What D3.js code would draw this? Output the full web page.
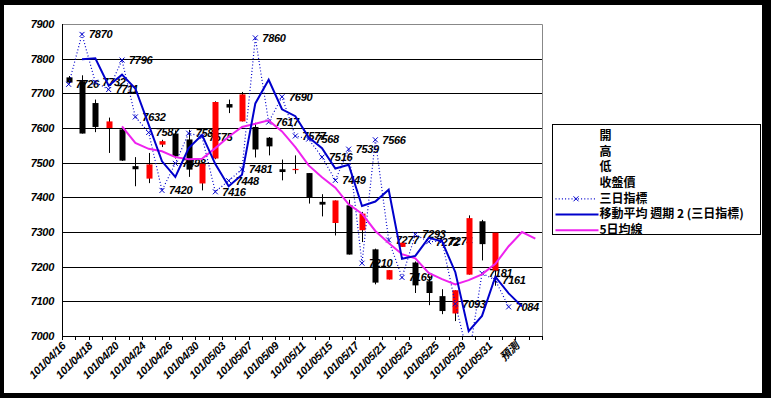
<!DOCTYPE html>
<html lang="zh-Hant">
<head>
<meta charset="utf-8">
<script src="https://cdn.jsdelivr.net/npm/d3@7"></script>
<style>
    body { margin: 0; background: #000; }
    svg { display: block; }
</style>
</head>
<body>
<script>
    let categories = ["101/04/16", "101/04/17", "101/04/18", "101/04/19", "101/04/20", "101/04/23",
        "101/04/24", "101/04/25", "101/04/26", "101/04/27", "101/04/30", "101/05/02", "101/05/03",
        "101/05/04", "101/05/07", "101/05/08", "101/05/09", "101/05/10", "101/05/11", "101/05/14",
        "101/05/15", "101/05/16", "101/05/17", "101/05/18", "101/05/21", "101/05/22", "101/05/23",
        "101/05/24", "101/05/25", "101/05/28", "101/05/29", "101/05/30", "101/05/31", "101/06/01",
        "預測", " "];

    let openVals  = [7746, 7735, 7672, 7600, 7596, 7490, 7454, 7552, 7584, 7567, 7440, 7512, 7669, 7619, 7603, 7572, 7481,
                     7480, 7470, 7387, 7326, 7377, 7305, 7250, 7163, 7257, 7212, 7158, 7115, 7065, 7177, 7331, 7189];
    let highVals  = [7750, 7752, 7682, 7630, 7600, 7516, 7528, 7566, 7593, 7595, 7500, 7677, 7682, 7704, 7615, 7574, 7509,
                     7521, 7470, 7409, 7391, 7393, 7358, 7252, 7190, 7269, 7215, 7172, 7135, 7132, 7348, 7335, 7298];
    let lowVals   = [7728, 7584, 7588, 7528, 7505, 7432, 7441, 7545, 7512, 7459, 7420, 7510, 7643, 7619, 7515, 7521, 7449,
                     7468, 7382, 7345, 7290, 7235, 7271, 7149, 7163, 7257, 7124, 7089, 7063, 7043, 7177, 7218, 7145];
    let closeVals = [7731, 7584, 7603, 7619, 7506, 7481, 7495, 7562, 7518, 7480, 7497, 7675, 7659, 7697, 7538, 7547, 7473,
                     7482, 7401, 7379, 7391, 7235, 7353, 7154, 7190, 7269, 7146, 7124, 7072, 7132, 7340, 7265, 7298];

    // 三日指標
    let indexVals = [7726, 7870, 7732, 7711, 7796, 7632, 7587, 7420, 7498, 7585, 7575, 7416, 7448, 7481, 7860, 7617, 7690,
                     7577, 7568, 7516, 7449, 7539, 7210, 7566, 7277, 7169, 7293, 7272, 7274, 7093, 6935, 7181, 7161, 7084];
    // 移動平均 週期 2 (三日指標)
    let maVals = [null, 7798, 7801, 7722, 7754, 7714, 7610, 7504, 7459, 7542, 7580, 7496, 7432, 7465, 7671, 7739, 7654,
                  7634, 7573, 7542, 7483, 7494, 7375, 7388, 7422, 7223, 7231, 7283, 7273, 7184, 7014, 7058, 7171, 7123, 7085, null];
    // 5日均線
    let avg5Vals = [null, null, null, null, 7605, 7557, 7540, 7533, 7516, 7510, 7511, 7542, 7575, 7603, 7612, 7622, 7590,
                    7545, 7492, 7458, 7428, 7380, 7353, 7303, 7268, 7236, 7224, 7182, 7164, 7149, 7161, 7178, 7208, 7259, 7300, 7281];

    let yTicks = [7000, 7100, 7200, 7300, 7400, 7500, 7600, 7700, 7800, 7900];
    let xTickLabels = categories.filter((d, i) => i % 2 === 0);
    let legendNames = ["開", "高", "低", "收盤價", "三日指標", "移動平均  週期 2 (三日指標)", "5日均線"];

    let w = 771;
    let h = 398;
    let padL = 62, padR = 542, padT = 24, padB = 336;
    let blue = "#0000cc";
    let magenta = "#ee22ee";
    let numFont = "'Liberation Sans', Arial, sans-serif";
    let cjkFont = "'Noto Sans CJK TC', 'Noto Sans CJK SC', sans-serif";

    let svg = d3.select("body")
                .append("svg")
                .attr("width", w)
                .attr("height", h);

    svg.append("rect").attr("width", w).attr("height", h).attr("fill", "#000");
    svg.append("rect").attr("x", 4).attr("y", 5).attr("width", 758).attr("height", 388).attr("fill", "#fff");

    let xScale = d3.scaleBand().domain(categories).range([padL, padR]);
    let bw = xScale.bandwidth();
    let cx = (i) => xScale(categories[i]) + bw / 2;
    let yScale = d3.scaleLinear().domain([7000, 7900]).range([padB, padT]);
    let py = (v) => Math.round(yScale(v)) + 0.5;

    svg.append("defs").append("clipPath").attr("id", "plot")
        .append("rect").attr("x", padL).attr("y", padT).attr("width", padR - padL).attr("height", padB - padT);

    // gridlines + plot frame
    svg.append("g").selectAll("line")
        .data(yTicks.filter((d) => d > 7000 && d < 7900))
        .enter()
        .append("line")
        .attr("x1", padL).attr("x2", padR)
        .attr("y1", (d) => py(d)).attr("y2", (d) => py(d))
        .attr("stroke", "#000");
    svg.append("path")
        .attr("d", "M" + padL + "," + (padT + 0.5) + "H" + (padR + 0.5) + "V" + padB)
        .attr("fill", "none").attr("stroke", "#888");

    // data labels of 三日指標 (sit under the candles in the original)
    let idx = indexVals.map((v, i) => ({ i: i, v: v }));
    svg.append("g").selectAll("text")
        .data(idx.filter((d) => d.v >= 7000))
        .enter()
        .append("text")
        .attr("x", (d) => cx(d.i) + 7)
        .attr("y", (d) => yScale(d.v))
        .attr("dy", "0.36em")
        .attr("font-family", numFont)
        .attr("font-size", "11px")
        .attr("font-style", "italic")
        .attr("font-weight", "bold")
        .attr("letter-spacing", "-0.3px")
        .attr("fill", "#000")
        .text((d) => d.v);

    // candles
    let candles = openVals.map((o, i) => ({ i: i, o: o, h: highVals[i], l: lowVals[i], c: closeVals[i] }));
    let cg = svg.append("g");
    cg.selectAll("line")
        .data(candles)
        .enter()
        .append("line")
        .attr("x1", (d) => Math.round(cx(d.i)) + 0.5).attr("x2", (d) => Math.round(cx(d.i)) + 0.5)
        .attr("y1", (d) => yScale(d.h)).attr("y2", (d) => yScale(d.l))
        .attr("stroke", "#000");
    cg.selectAll("rect")
        .data(candles)
        .enter()
        .append("rect")
        .attr("x", (d) => Math.round(cx(d.i)) - 2.5)
        .attr("width", 6)
        .attr("y", (d) => yScale(Math.max(d.o, d.c)))
        .attr("height", (d) => Math.max(1.2, Math.abs(yScale(d.o) - yScale(d.c))))
        .attr("fill", (d) => d.c >= d.o ? "#ff0000" : "#000");

    // lines
    let lg = svg.append("g").attr("clip-path", "url(#plot)");
    let lineOf = d3.line().defined((d) => d.v !== null).x((d) => cx(d.i)).y((d) => yScale(d.v));

    lg.append("path")
        .datum(idx)
        .attr("d", lineOf)
        .attr("fill", "none").attr("stroke", blue).attr("stroke-width", 1.2)
        .attr("stroke-dasharray", "1,2.2");
    lg.selectAll(".mk")
        .data(idx)
        .enter()
        .append("path")
        .attr("class", "mk")
        .attr("transform", (d) => "translate(" + cx(d.i) + "," + yScale(d.v) + ")")
        .attr("d", "M-2.5,-2.5L2.5,2.5M-2.5,2.5L2.5,-2.5")
        .attr("stroke", blue).attr("stroke-width", 1);
    lg.append("path")
        .datum(avg5Vals.map((v, i) => ({ i: i, v: v })))
        .attr("d", lineOf)
        .attr("fill", "none").attr("stroke", magenta).attr("stroke-width", 2);
    lg.append("path")
        .datum(maVals.map((v, i) => ({ i: i, v: v })))
        .attr("d", lineOf)
        .attr("fill", "none").attr("stroke", blue).attr("stroke-width", 2);

    // axes
    let yAxis = d3.axisLeft(yScale).tickValues(yTicks).tickFormat(d3.format("d")).tickSize(0).tickPadding(8);
    let gy = svg.append("g").attr("transform", "translate(" + padL + ",0)").call(yAxis);
    gy.select(".domain").remove();
    gy.selectAll("text")
        .attr("font-family", numFont).attr("font-size", "11px")
        .attr("font-style", "italic").attr("font-weight", "bold")
        .attr("letter-spacing", "-0.3px").attr("fill", "#000");
    svg.append("line")
        .attr("x1", padL + 0.5).attr("x2", padL + 0.5)
        .attr("y1", padT).attr("y2", padB + 0.5)
        .attr("stroke", "#000");

    let xAxis = d3.axisBottom(xScale).tickValues(xTickLabels).tickSize(0);
    let gx = svg.append("g").attr("transform", "translate(0," + padB + ")").call(xAxis);
    gx.select(".domain").remove();
    gx.selectAll("text")
        .attr("x", 0).attr("y", 0).attr("dy", "0.35em")
        .attr("transform", "translate(-5,8) rotate(-45)")
        .attr("text-anchor", "end")
        .attr("font-family", numFont).attr("font-size", "11px")
        .attr("font-style", "italic").attr("font-weight", "bold")
        .attr("letter-spacing", "-0.3px").attr("fill", "#000");
    gx.selectAll("text").filter((d) => d === "預測").attr("font-family", cjkFont);
    svg.append("line")
        .attr("x1", padL).attr("x2", padR + 0.5)
        .attr("y1", padB + 0.5).attr("y2", padB + 0.5)
        .attr("stroke", "#000");
    svg.append("g").selectAll("line")
        .data(d3.range(categories.length + 1))
        .enter()
        .append("line")
        .attr("x1", (d) => Math.round(padL + d * bw) + 0.5).attr("x2", (d) => Math.round(padL + d * bw) + 0.5)
        .attr("y1", padB).attr("y2", padB + 4)
        .attr("stroke", "#000");

    // legend
    let lgd = svg.append("g").attr("transform", "translate(552.5,124.5)");
    lgd.append("rect").attr("width", 208).attr("height", 110)
        .attr("fill", "#fff").attr("stroke", "#000");
    let rows = lgd.selectAll(".row")
        .data(legendNames)
        .enter()
        .append("g")
        .attr("class", "row")
        .attr("transform", (d, i) => "translate(0," + (11 + i * 15.7) + ")");
    rows.append("text")
        .attr("x", 47).attr("dy", "0.36em")
        .attr("font-family", cjkFont).attr("font-size", "12px").attr("font-weight", "bold")
        .attr("fill", "#000")
        .text((d) => d);
    rows.filter((d, i) => i === 4).append("line")
        .attr("x1", 3).attr("x2", 44).attr("y1", 0.5).attr("y2", 0.5)
        .attr("stroke", blue).attr("stroke-dasharray", "1,2.2").attr("stroke-width", 1.2);
    rows.filter((d, i) => i === 4).append("path")
        .attr("transform", "translate(23.5,0.5)")
        .attr("d", "M-2.5,-2.5L2.5,2.5M-2.5,2.5L2.5,-2.5")
        .attr("stroke", blue);
    rows.filter((d, i) => i === 5).append("line")
        .attr("x1", 3).attr("x2", 46).attr("y1", 0.5).attr("y2", 0.5)
        .attr("stroke", blue).attr("stroke-width", 2);
    rows.filter((d, i) => i === 6).append("line")
        .attr("x1", 3).attr("x2", 46).attr("y1", 0.5).attr("y2", 0.5)
        .attr("stroke", magenta).attr("stroke-width", 2);
</script>
</body>
</html>
